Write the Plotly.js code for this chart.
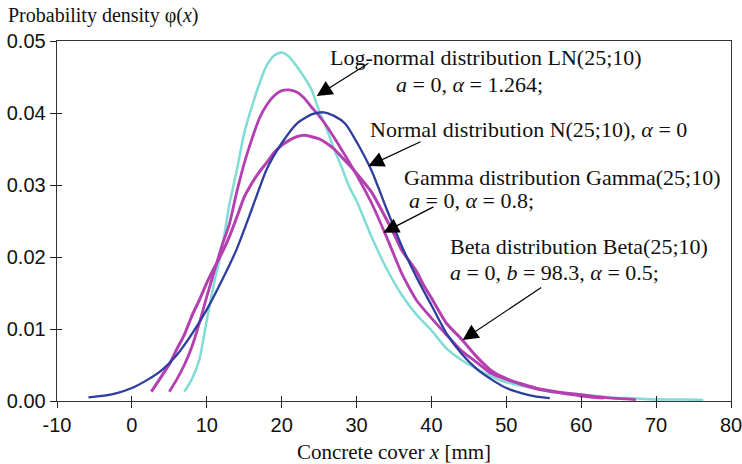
<!DOCTYPE html>
<html>
<head>
<meta charset="utf-8">
<script src="https://cdn.plot.ly/plotly-3.0.1.min.js"></script>
<style>html,body{margin:0;padding:0;background:#fff}#chart{width:742px;height:464px}</style>
</head>
<body>
<div id="chart"></div>
<script>
// Normal distribution N(25;10)
const normalX = [-5.8,-4,-2,0,2,4,6,8,10,12,14,16,18,20,22,24,25.5,27,28.5,30,32,34,36,38,40,42,44,46,48,50,52,54,55.8];
const normalY = [0.0005,0.0007,0.0011,0.0018,0.0029,0.0043,0.0064,0.0093,0.0127,0.0167,0.0211,0.0266,0.0322,0.0358,0.0385,0.0398,0.0401,0.0396,0.0385,0.0360,0.0320,0.0267,0.0216,0.0172,0.0133,0.0094,0.0066,0.0045,0.0030,0.0018,0.0011,0.0006,0.0004];
// Log-normal distribution LN(25;10)
const lognX = [7,8,9,10,11,12,13,14,15,16,17,18,19,20,21,22,23,24,25,26,27,28,29,30,32,34,36,38,40,42,44,46,48,50,52,54,56,58,60,62,64,66,68,70,72,74,76.3];
const lognY = [0.0013,0.0030,0.0057,0.0112,0.0165,0.0210,0.0272,0.0320,0.0372,0.0408,0.0440,0.0466,0.0480,0.0484,0.0478,0.0465,0.0450,0.0432,0.0403,0.0378,0.0350,0.0325,0.0298,0.0278,0.0228,0.0184,0.0148,0.0120,0.0098,0.0073,0.0057,0.0045,0.0034,0.0026,0.0021,0.0017,0.0013,0.0011,0.0009,0.0007,0.0005,0.0004,0.0003,0.0002,0.0002,0.0002,0.00015];
// Gamma distribution Gamma(25;10)
const gammaX = [5,6,7,8,9,10,11,12,13,14,15,16,17,18,19,20,21,22,23,24,25,26,27,28,29,30,32,34,36,37,38,40,42,44,46,48,50,52,54,56,58,60,62,64,66,67.3];
const gammaY = [0.0013,0.0030,0.0050,0.0075,0.0108,0.0145,0.0180,0.0215,0.0245,0.0290,0.0330,0.0363,0.0392,0.0411,0.0424,0.0431,0.0432,0.0429,0.0421,0.0408,0.0396,0.0382,0.0366,0.0349,0.0332,0.0314,0.0275,0.0228,0.0178,0.0158,0.0140,0.0115,0.0092,0.0070,0.0054,0.0038,0.0030,0.0024,0.0018,0.0014,0.0011,0.0009,0.0006,0.0004,0.0003,0.0002];
// Beta distribution Beta(25;10)
const betaX = [2.6,4,5,6,7,8,9,10,11,12,13,14,15,16,17,18,19,20,21,22,23,24,25,26,27,28,29,30,32,34,35,36,38,39,40,42,44,46,48,50,52,54,56,58,60,63];
const betaY = [0.0013,0.0035,0.0051,0.0072,0.0092,0.0118,0.0140,0.0164,0.0185,0.0205,0.0228,0.0255,0.0283,0.0302,0.0318,0.0331,0.0345,0.0355,0.0362,0.0367,0.0369,0.0367,0.0364,0.0358,0.0350,0.0339,0.0328,0.0316,0.0290,0.0252,0.0232,0.0210,0.0180,0.0160,0.0143,0.0108,0.0086,0.0062,0.0042,0.0031,0.0023,0.0017,0.0013,0.0010,0.0007,0.0004];

const xTickVals = [-10,0,10,20,30,40,50,60,70,80];
const yTickVals = [0,0.01,0.02,0.03,0.04,0.05];

const serif = '"Liberation Serif", "Times New Roman", serif';
const sans = '"Liberation Sans", Arial, sans-serif';

const traces = [
  {x: lognX, y: lognY, mode: 'lines', line: {color: '#80dcd5', width: 2.5, shape: 'spline', smoothing: 0.6}, hoverinfo: 'skip'},
  {x: gammaX, y: gammaY, mode: 'lines', line: {color: '#b43fb0', width: 2.8, shape: 'spline', smoothing: 0.6}, hoverinfo: 'skip'},
  {x: betaX, y: betaY, mode: 'lines', line: {color: '#b43fb0', width: 3, shape: 'spline', smoothing: 0.6}, hoverinfo: 'skip'},
  {x: normalX, y: normalY, mode: 'lines', line: {color: '#2d3e9e', width: 2.3, shape: 'spline', smoothing: 0.6}, hoverinfo: 'skip'},
  {x: [], y: [], xaxis: 'x2', yaxis: 'y2', mode: 'lines', hoverinfo: 'skip'}
];

function txt(x, y, text) {
  return {x: x, y: y, xref: 'x', yref: 'y', text: text, showarrow: false,
          xanchor: 'left', yanchor: 'middle', font: {family: serif, size: 22, color: '#111'}};
}
function arrow(hx, hy, tx, ty) {
  return {x: hx, y: hy, ax: tx, ay: ty, xref: 'x', yref: 'y', axref: 'x', ayref: 'y',
          text: '', showarrow: true, arrowhead: 2, arrowsize: 2.6, arrowwidth: 1.2,
          arrowcolor: '#000', standoff: 0, startstandoff: 0};
}

const annotations = [
  txt(26.2, 0.0477, 'Log-normal distribution LN(25;10)'),
  txt(35.0, 0.0440, '<i>a</i> = 0, <i>α</i> = 1.264;'),
  txt(31.5, 0.0377, 'Normal distribution N(25;10), <i>α</i> = 0'),
  txt(36.1, 0.0310, 'Gamma distribution Gamma(25;10)'),
  txt(36.7, 0.0279, '<i>a</i> = 0, <i>α</i> = 0.8;'),
  txt(42.2, 0.0214, 'Beta distribution Beta(25;10)'),
  txt(42.2, 0.0178, '<i>a</i> = 0, <i>b</i> = 98.3, <i>α</i> = 0.5;'),
  arrow(24.68, 0.04236, 31.79, 0.04705),
  arrow(31.57, 0.03263, 38.74, 0.0361),
  arrow(33.57, 0.02337, 40.47, 0.02707),
  arrow(44.17, 0.00848, 54.86, 0.0159)
];

const layout = {
  width: 742, height: 464,
  margin: {l: 57, r: 11, t: 41, b: 63, pad: 0},
  paper_bgcolor: '#fff', plot_bgcolor: '#fff',
  showlegend: false,
  title: {text: 'Probability density φ(<i>x</i>)', xref: 'container', yref: 'container',
          x: 8/742, xanchor: 'left', y: 1 - 15/464, yanchor: 'middle',
          font: {family: serif, size: 20, color: '#111'}},
  xaxis: {range: [-10, 80], tickvals: xTickVals, ticktext: xTickVals.map(String),
          ticks: 'outside', ticklen: 6, tickwidth: 1, tickcolor: '#222',
          ticklabeloverflow: 'allow',
          showline: true, linecolor: '#333', linewidth: 1.3, mirror: true,
          showgrid: false, zeroline: false,
          tickfont: {family: sans, size: 20, color: '#111'},
          title: {text: 'Concrete cover <i>x</i> [mm]', standoff: 14,
                  font: {family: serif, size: 21, color: '#111'}}},
  yaxis: {range: [0, 0.05], tickvals: yTickVals, tickformat: '.2f',
          ticks: 'outside', ticklen: 6, tickwidth: 1, tickcolor: '#222',
          showline: true, linecolor: '#333', linewidth: 1.3, mirror: true,
          showgrid: false, zeroline: false,
          tickfont: {family: sans, size: 20, color: '#111'}},
  xaxis2: {range: [-10, 80], tickvals: xTickVals, overlaying: 'x', anchor: 'y', side: 'bottom',
           ticks: 'inside', ticklen: 5, tickcolor: '#222', showticklabels: false,
           showline: false, showgrid: false, zeroline: false},
  yaxis2: {range: [0, 0.05], tickvals: yTickVals, overlaying: 'y', anchor: 'x', side: 'left',
           ticks: 'inside', ticklen: 5, tickcolor: '#222', showticklabels: false,
           showline: false, showgrid: false, zeroline: false},
  annotations: annotations
};

Plotly.newPlot('chart', traces, layout, {displayModeBar: false, staticPlot: true});
</script>
</body>
</html>
